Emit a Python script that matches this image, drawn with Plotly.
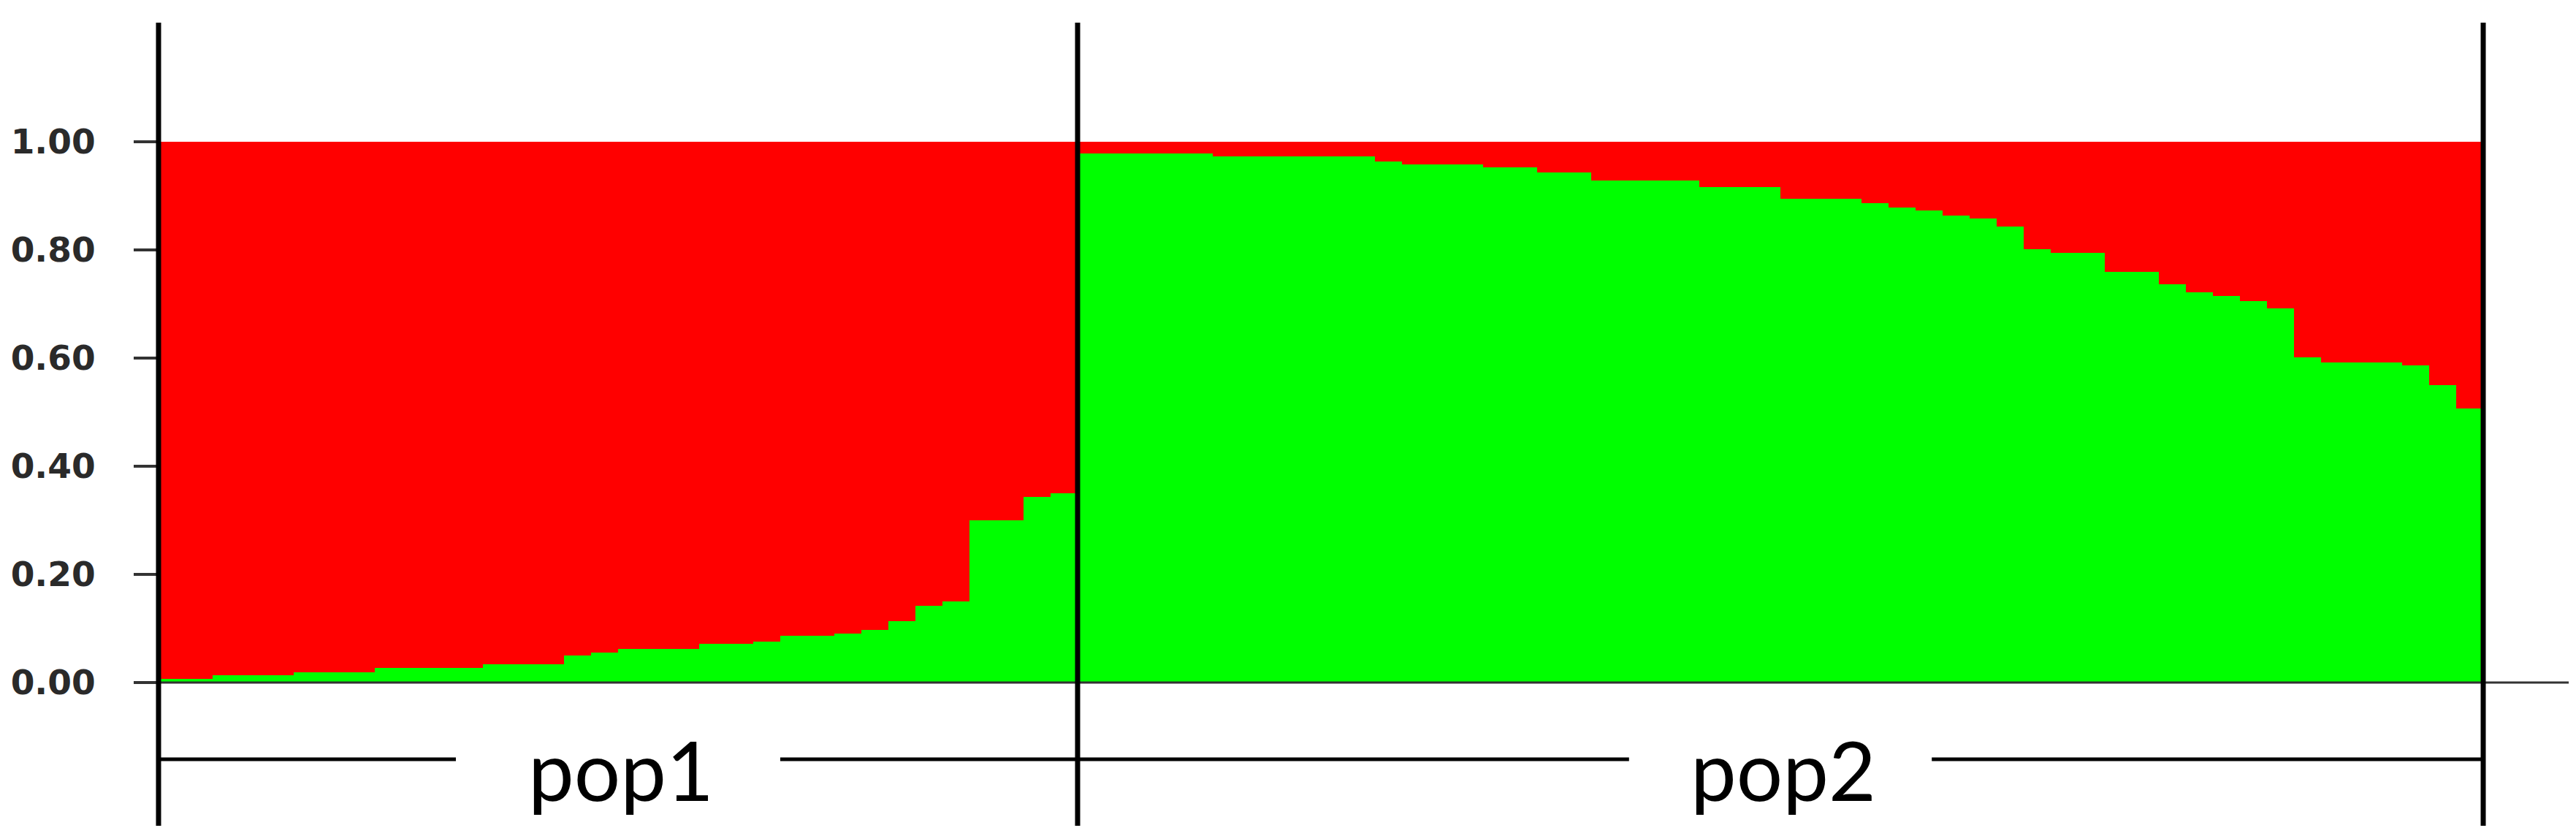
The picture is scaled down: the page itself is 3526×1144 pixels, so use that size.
import plotly.graph_objects as go

# estimated membership in cluster 2 (green), individuals sorted within each population
POP1_GREEN = [
    0.007, 0.007,
    0.013, 0.013, 0.013,
    0.019, 0.019, 0.019,
    0.027, 0.027, 0.027, 0.027,
    0.034, 0.034, 0.034,
    0.050, 0.055,
    0.062, 0.062, 0.062,
    0.071, 0.071, 0.076,
    0.086, 0.086, 0.091, 0.097,
    0.113, 0.142, 0.150,
    0.300, 0.300, 0.343, 0.350,
]
POP2_GREEN = [
    0.979, 0.979, 0.979, 0.979, 0.979,
    0.973, 0.973, 0.973, 0.973, 0.973, 0.973,
    0.964, 0.958, 0.958, 0.958,
    0.953, 0.953, 0.943, 0.943,
    0.929, 0.929, 0.929, 0.929,
    0.916, 0.916, 0.916,
    0.895, 0.895, 0.895,
    0.887, 0.879, 0.873, 0.864, 0.858, 0.843,
    0.801, 0.794, 0.794, 0.759, 0.759,
    0.737, 0.722, 0.715, 0.706, 0.692,
    0.601, 0.592, 0.592, 0.592, 0.587, 0.550, 0.507,
]
POP_NAMES = ["pop1", "pop2"]
Y_TICKS = [0.0, 0.2, 0.4, 0.6, 0.8, 1.0]
Y_TICK_TEXT = ["0.00", "0.20", "0.40", "0.60", "0.80", "1.00"]

green = POP1_GREEN + POP2_GREEN
red = [round(1 - g, 3) for g in green]
idx = list(range(len(green)))
pop_sizes = [len(POP1_GREEN), len(POP2_GREEN)]

# population boundaries (in bar units)
bounds = [-0.5]
for n in pop_sizes:
    bounds.append(bounds[-1] + n)

PX_PER_BAR = 37.0
L, R, T, B = 209, 18, 23, 22
W, H = 3526, 1144
plot_w = W - L - R
x_max = -0.5 + plot_w / PX_PER_BAR
x_span = x_max + 0.5
y0_px, y1_px = 926, 186
px_per_unit = y0_px - y1_px
y_bottom = -(H - B - y0_px) / px_per_unit
y_top = 1 + (y1_px - T) / px_per_unit
pop_line_y = -(1031 - y0_px) / px_per_unit
pop_text_y = -(1044 - y0_px) / px_per_unit


def to_paper(xv):
    return (xv + 0.5) / x_span


def to_paper_y(yv):
    return (yv - y_bottom) / (y_top - y_bottom)


fig = go.Figure()
fig.add_trace(go.Bar(x=idx, y=green, marker=dict(color="#00FF00", line=dict(width=0)),
                     width=1.0, name="cluster 2"))
fig.add_trace(go.Bar(x=idx, y=red, marker=dict(color="#FF0000", line=dict(width=0)),
                     width=1.0, name="cluster 1"))

shapes = []
# baseline at 0, running past the last population
shapes.append(dict(type="line", xref="paper", yref="paper", x0=0, x1=1,
                   y0=to_paper_y(0), y1=to_paper_y(0),
                   line=dict(color="#333333", width=3), layer="above"))

# tick marks left of the first separator
for t in Y_TICKS:
    shapes.append(dict(type="line", xref="paper", yref="paper",
                       x0=-34 / plot_w, x1=-4 / plot_w,
                       y0=to_paper_y(t), y1=to_paper_y(t),
                       line=dict(color="#333333", width=4), layer="above"))

# population bracket lines with a gap for the label
gap_half = [6.0, 5.6]
annotations = []
for i, name in enumerate(POP_NAMES):
    cx = (bounds[i] + bounds[i + 1]) / 2
    for xa, xb in [(bounds[i], cx - gap_half[i]), (cx + gap_half[i], bounds[i + 1])]:
        shapes.append(dict(type="line", xref="paper", yref="paper",
                           x0=to_paper(xa), x1=to_paper(xb),
                           y0=to_paper_y(pop_line_y), y1=to_paper_y(pop_line_y),
                           line=dict(color="black", width=5), layer="above"))
    annotations.append(dict(x=cx + 0.1, y=pop_text_y, xref="x", yref="y", text=name,
                            showarrow=False,
                            font=dict(family="Lato", size=112, color="black"),
                            yanchor="middle"))

# separators between populations
for b in bounds:
    shapes.append(dict(type="line", xref="paper", yref="paper",
                       x0=to_paper(b), x1=to_paper(b), y0=0, y1=1,
                       line=dict(color="black", width=7), layer="above"))

fig.update_layout(
    width=W, height=H,
    barmode="stack", bargap=0,
    showlegend=False,
    paper_bgcolor="white", plot_bgcolor="white",
    margin=dict(l=L, r=R, t=T, b=B, pad=0),
    shapes=shapes, annotations=annotations,
)
fig.update_xaxes(range=[-0.5, x_max], showgrid=False, zeroline=False, showline=False,
                 showticklabels=False, ticks="", automargin=False)
fig.update_yaxes(range=[y_bottom, y_top], showgrid=False, zeroline=False, showline=False,
                 automargin=False,
                 tickvals=Y_TICKS, ticktext=Y_TICK_TEXT, ticks="outside", ticklen=32,
                 tickwidth=4, tickcolor="#333333", ticklabelstandoff=44,
                 tickfont=dict(family="DejaVu Sans", size=47, color="#2a2a2a", weight="bold"))

fig.write_html("out.html")
